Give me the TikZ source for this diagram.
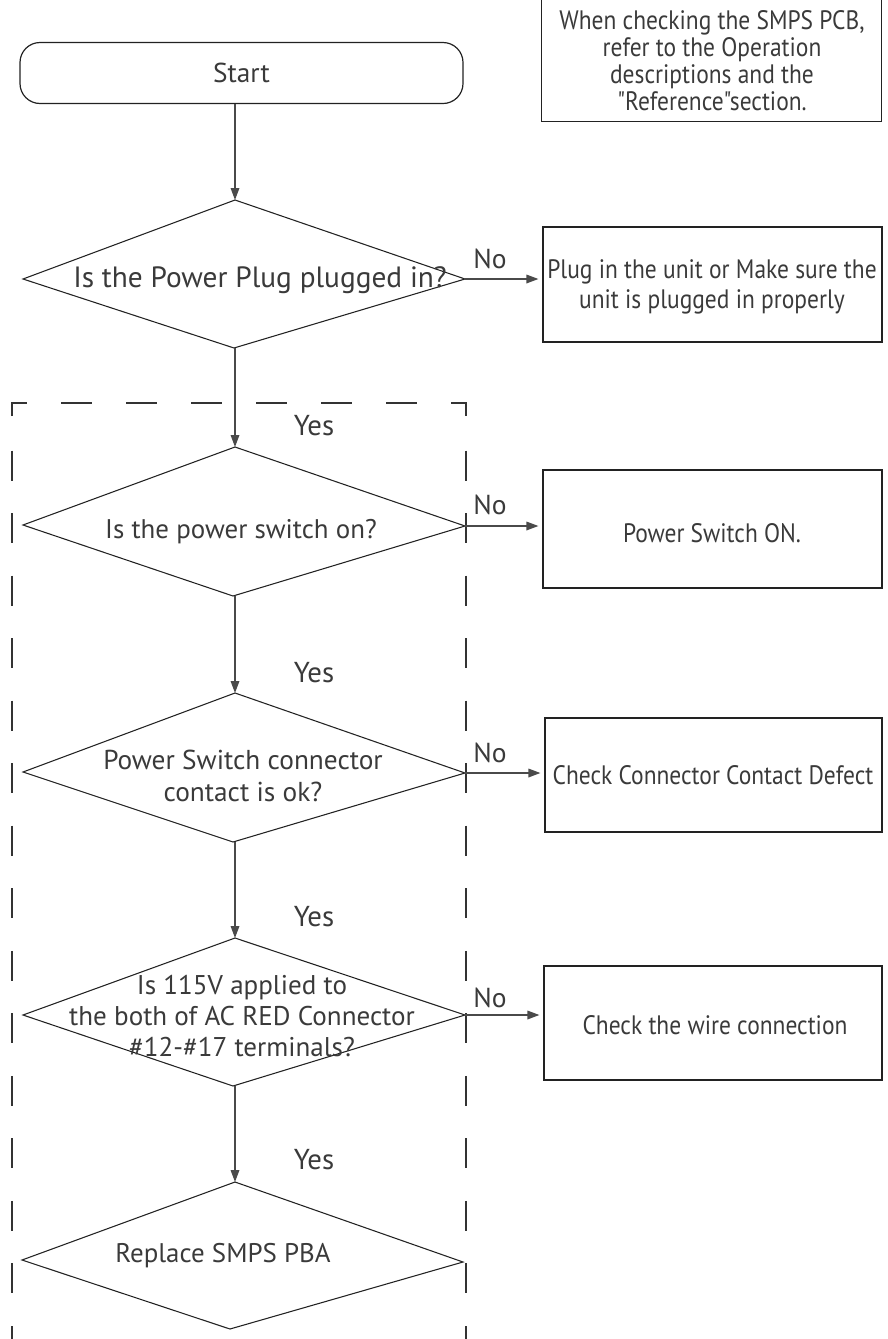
\documentclass[tikz,border=0pt]{standalone}
\usepackage{fontspec}
\setmainfont{PT Sans}
\newfontfamily\narrowfont{PT Sans}[FakeStretch=0.88]
\usetikzlibrary{arrows.meta}
\definecolor{txt}{HTML}{3A3A3A}
\definecolor{arr}{HTML}{4A4A4A}
\definecolor{edge}{HTML}{222222}
\newcommand{\fsz}[2]{\fontsize{#1pt}{#2pt}\selectfont}
\begin{document}
\begin{tikzpicture}[x=0.75pt,y=-0.75pt,
  outline/.style={draw=edge, line width=0.8pt},
  boxnode/.style={draw=edge, line width=0.9pt, rectangle, inner sep=0pt},
  lbl/.style={text=txt, inner sep=0pt, align=center},
  qtext/.style={lbl, font=\fsz{20.2}{23.5}},
  btext/.style={lbl, font=\narrowfont\fsz{20}{22.5}},
  conn/.style={draw=arr, line width=0.9pt, -{Triangle[length=9pt,width=6.5pt]}},
  dashv/.style={draw=black!80, line width=1pt, dash pattern=on 22.5pt off 24.4pt, dash phase=22.5pt},
  dashh/.style={draw=black!80, line width=1pt, dash pattern=on 23.25pt off 25.5pt, dash phase=23.25pt}
]
\useasboundingbox (0,0) rectangle (888,1339);

% dashed frame
\draw[draw=black!80, line width=1pt] (12,416) -- (12,403) -- (27,403);
\draw[draw=black!80, line width=1pt] (451,403) -- (466,403) -- (466,416);
\draw[dashh] (27,403) -- (451,403);
\draw[dashv] (12,418) -- (12,1345);
\draw[dashv] (466,418) -- (466,1345);

% start
\node[boxnode, rounded corners=15pt, minimum width=443*0.75pt, minimum height=61*0.75pt] (start) at (241.5,73) {};
\node[lbl, font=\fsz{20.5}{24}] (starttext) at (start.center) {Start};

% note
\node[boxnode, anchor=north west, minimum width=340*0.75pt, minimum height=123*0.75pt] (note) at (541,-2) {};
\node[lbl, font=\narrowfont\fsz{20}{20.3}] (notetext) at (712,61) {When checking the SMPS PCB,\\refer to the Operation\\descriptions and the\\"Reference"section.};

% diamonds
\coordinate (d1t) at (235,200); \coordinate (d1r) at (465,279); \coordinate (d1b) at (234,348); \coordinate (d1l) at (23,279);
\coordinate (d2t) at (235,447); \coordinate (d2r) at (465,526); \coordinate (d2b) at (233,596); \coordinate (d2l) at (23,525);
\coordinate (d3t) at (235,693); \coordinate (d3r) at (465,773); \coordinate (d3b) at (233,842); \coordinate (d3l) at (23,772);
\coordinate (d4t) at (235,938); \coordinate (d4r) at (465,1015); \coordinate (d4b) at (233,1086); \coordinate (d4l) at (23,1015);
\coordinate (d5t) at (235,1182); \coordinate (d5r) at (463,1262); \coordinate (d5b) at (230,1329); \coordinate (d5l) at (22,1260);
\foreach \d in {d1,d2,d3,d4,d5}{
  \draw[outline] (\d t) -- (\d r) -- (\d b) -- (\d l) -- cycle;
}
\node[lbl, font=\fsz{22}{26}] (q1) at (260,280) {Is the Power Plug plugged in?};
\node[qtext] (q2) at (241,532) {Is the power switch on?};
\node[qtext, font=\fsz{20.5}{24}] (q3) at (243,776) {Power Switch connector\\contact is ok?};
\node[qtext, font=\fsz{20.3}{23}] (q4) at (242,1016) {Is 115V applied to\\the both of AC RED Connector\\\#12-\#17 terminals?};
\node[qtext] (q5) at (223,1256) {Replace SMPS PBA};

% action boxes
\node[boxnode, minimum width=339*0.75pt, minimum height=115*0.75pt] (b1) at (712.5,284.5) {};
\node[btext] (b1text) at (712,287) {Plug in the unit or Make sure the\\unit is plugged in properly};
\node[boxnode, minimum width=339*0.75pt, minimum height=118*0.75pt] (b2) at (712.5,529) {};
\node[btext] (b2text) at (712,533) {Power Switch ON.};
\node[boxnode, minimum width=337*0.75pt, minimum height=114*0.75pt] (b3) at (713.5,775) {};
\node[btext] (b3text) at (713,775) {Check Connector Contact Defect};
\node[boxnode, minimum width=338*0.75pt, minimum height=114*0.75pt] (b4) at (713,1023) {};
\node[btext] (b4text) at (715,1025) {Check the wire connection};

% vertical connectors
\draw[conn] (start.south -| d1t) -- (d1t);
\draw[conn] (d1b -| d2t) -- (d2t);
\draw[conn] (d2b -| d3t) -- (d3t);
\draw[conn] (d3b -| d4t) -- (d4t);
\draw[conn] (d4b -| d5t) -- (d5t);

% No connectors
\draw[conn, shorten >=3pt] (d1r) -- (b1.west |- d1r);
\draw[conn, shorten >=3pt] (d2r) -- (b2.west |- d2r);
\draw[conn, shorten >=3pt] (d3r) -- (b3.west |- d3r);
\draw[conn, shorten >=3pt] (d4r) -- (b4.west |- d4r);

% labels
\node[lbl, font=\fsz{20.6}{24}] (no1) at (490,259) {No};
\node[lbl, font=\fsz{20.6}{24}] (no2) at (490,505) {No};
\node[lbl, font=\fsz{20.6}{24}] (no3) at (490,753) {No};
\node[lbl, font=\fsz{20.6}{24}] (no4) at (490,998) {No};
\node[lbl, font=\fsz{21.6}{24}] (yes1) at (314,426) {Yes};
\node[lbl, font=\fsz{21.6}{24}] (yes2) at (314,673) {Yes};
\node[lbl, font=\fsz{21.6}{24}] (yes3) at (314,917) {Yes};
\node[lbl, font=\fsz{21.6}{24}] (yes4) at (314,1160) {Yes};
\end{tikzpicture}
\end{document}
